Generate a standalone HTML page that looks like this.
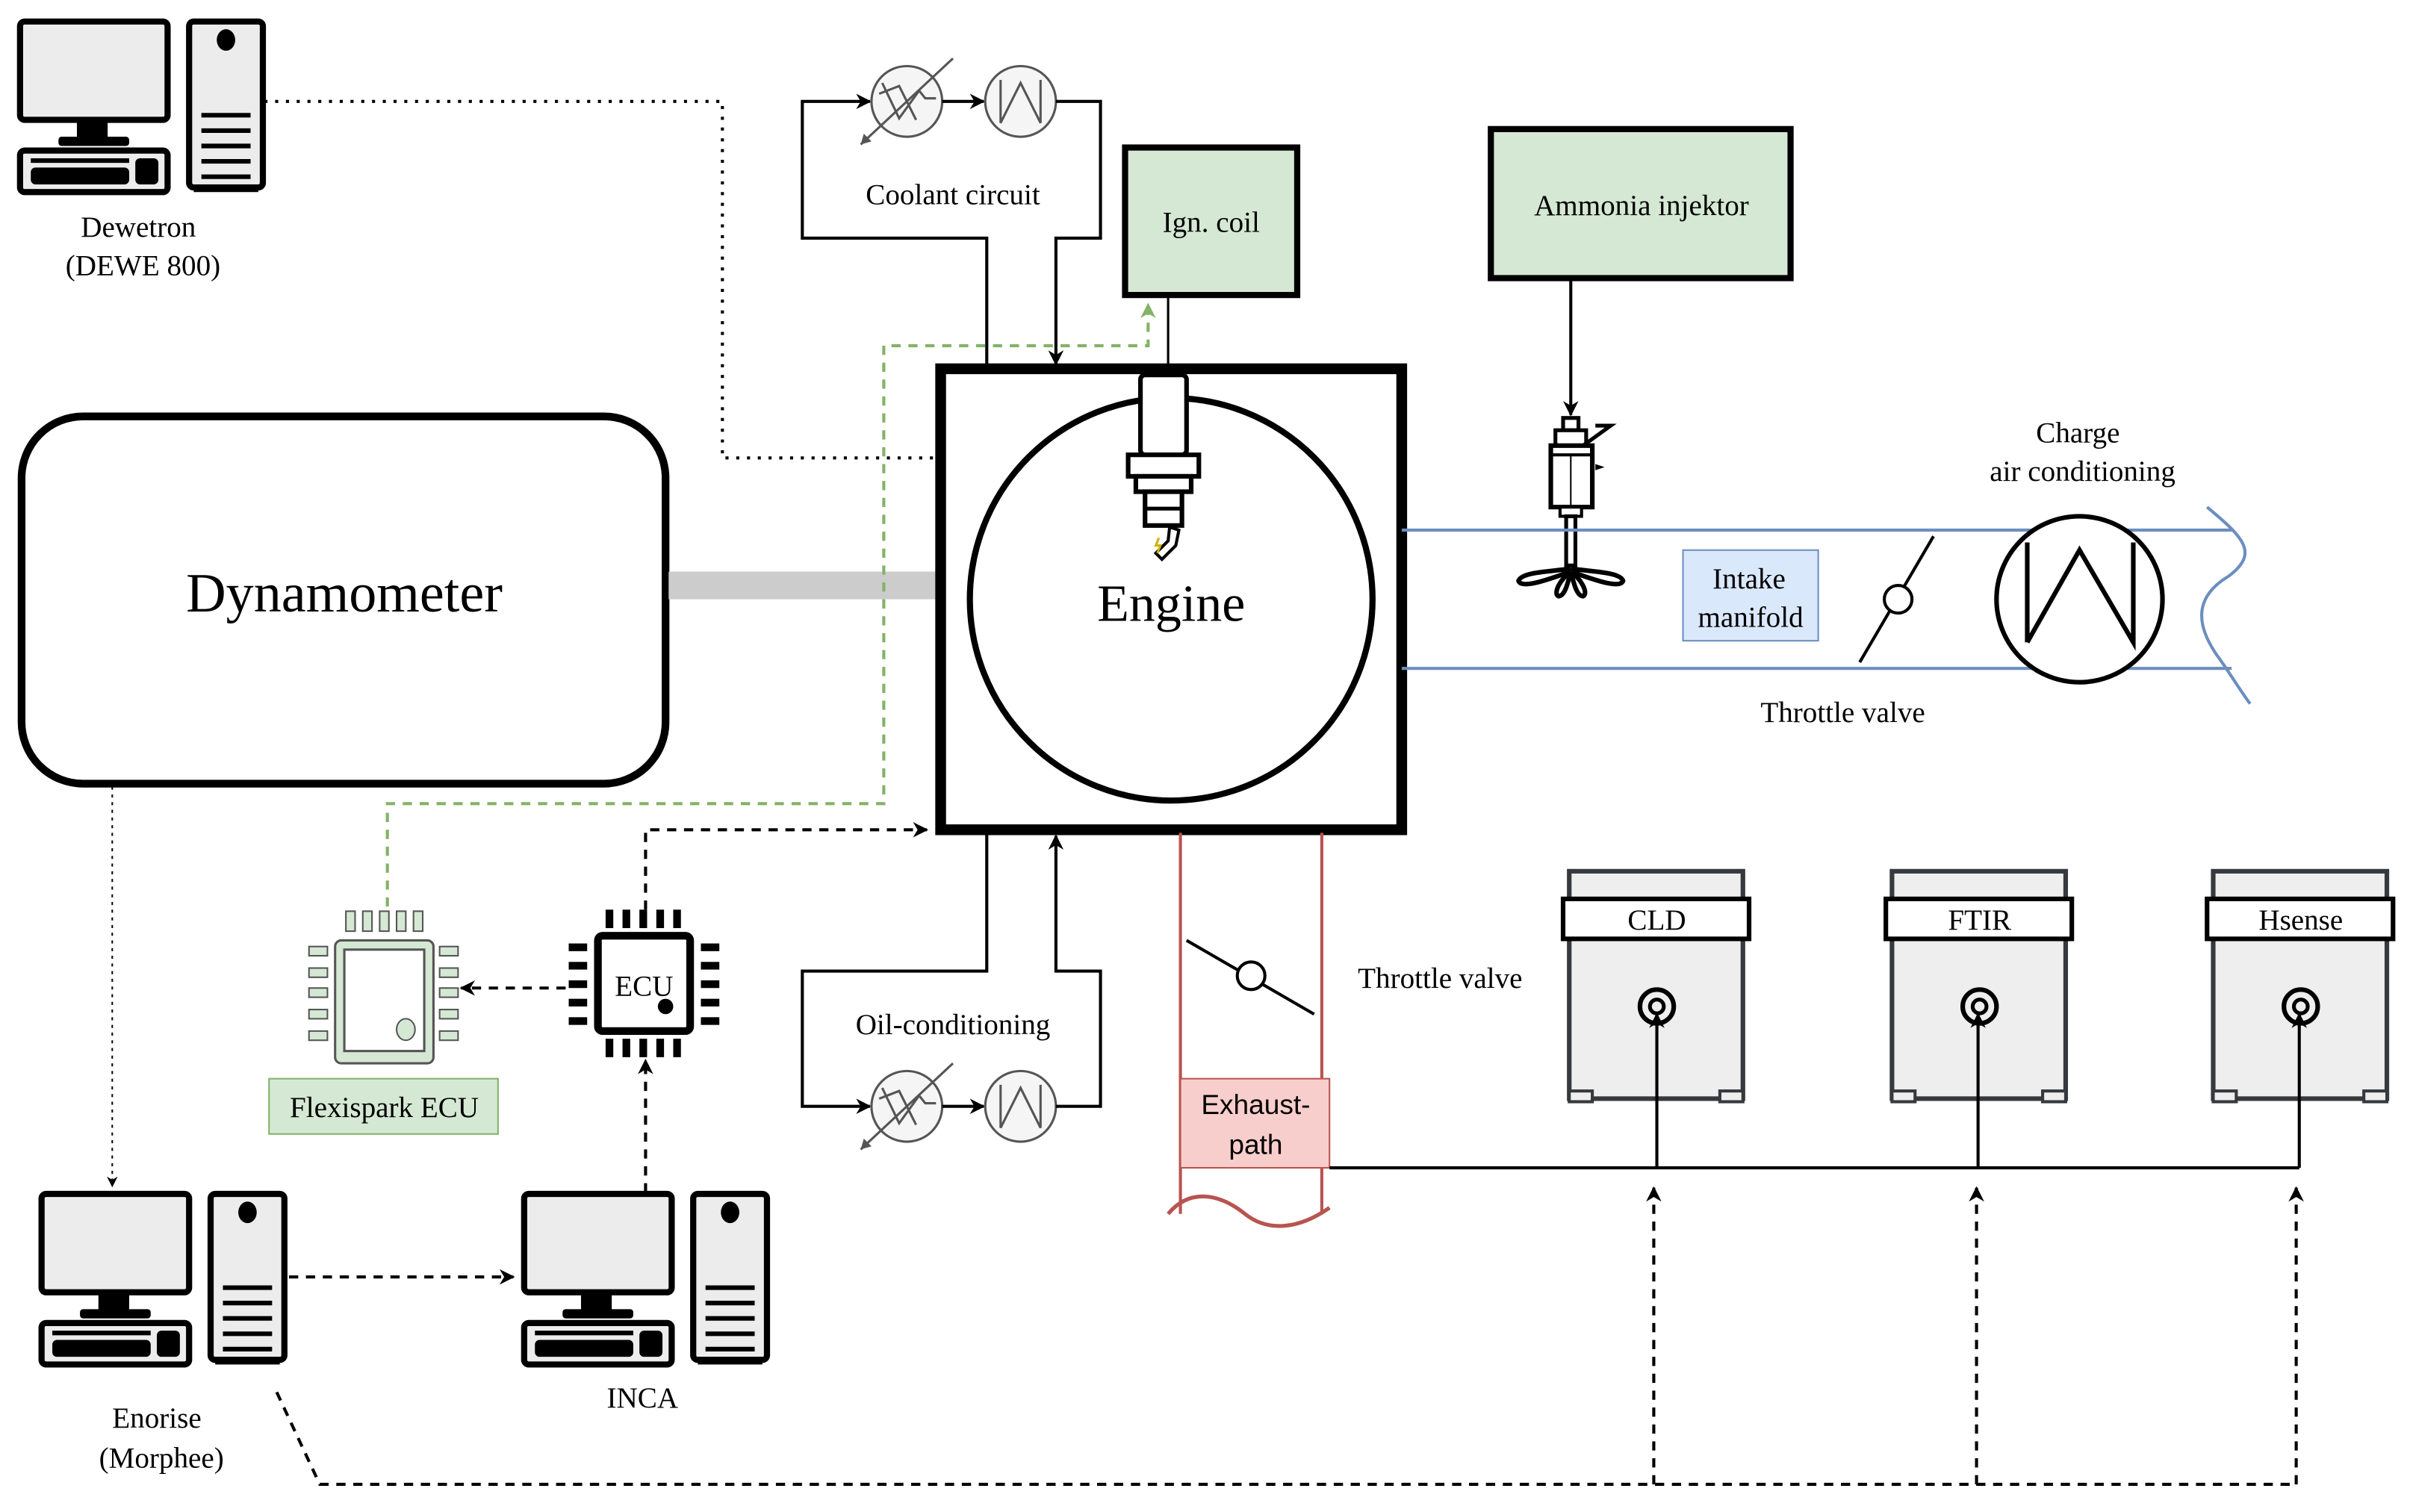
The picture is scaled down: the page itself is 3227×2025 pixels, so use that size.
<!DOCTYPE html>
<html><head><meta charset="utf-8"><style>
html,body{margin:0;padding:0;background:#fff;}
svg{display:block;}
text{font-family:"Liberation Serif",serif;fill:#000;}
</style></head><body>
<svg width="3227" height="2025" viewBox="0 0 1568 984" xmlns="http://www.w3.org/2000/svg">
<defs>
<marker id="ah" viewBox="0 0 10 10" refX="9" refY="5" markerWidth="7" markerHeight="7" orient="auto-start-reverse" markerUnits="userSpaceOnUse"><path d="M0,0 L10,5 L0,10 L3,5 z" fill="#000"/></marker>
<marker id="ahs" viewBox="0 0 10 10" refX="9" refY="5" markerWidth="10" markerHeight="10" orient="auto" markerUnits="userSpaceOnUse"><path d="M0,0 L10,5 L0,10 L3,5 z" fill="#000"/></marker>
<marker id="ahg" viewBox="0 0 10 10" refX="9" refY="5" markerWidth="10" markerHeight="10" orient="auto" markerUnits="userSpaceOnUse"><path d="M0,0 L10,5 L0,10 L3,5 z" fill="#82b366"/></marker>
<g id="pc">
 <rect x="1" y="1" width="96" height="64" rx="3" fill="#ececec" stroke="#000" stroke-width="4"/>
 <rect x="38" y="65" width="20" height="12" fill="#000"/>
 <rect x="26" y="76" width="46" height="6" rx="2" fill="#000"/>
 <rect x="1" y="85" width="96" height="27" rx="3" fill="#ececec" stroke="#000" stroke-width="4"/>
 <rect x="8" y="90" width="64" height="3" fill="#000"/>
 <rect x="8" y="96" width="64" height="11" rx="3" fill="#000"/>
 <rect x="76" y="90" width="15" height="17" rx="3" fill="#000"/>
 <rect x="111" y="1" width="48" height="108" rx="3" fill="#ececec" stroke="#000" stroke-width="4"/>
 <rect x="114" y="107" width="42" height="5" fill="#000"/>
 <ellipse cx="135" cy="13" rx="6" ry="7" fill="#000"/>
 <g stroke="#000" stroke-width="3"><line x1="119" y1="72" x2="151" y2="72"/><line x1="119" y1="82" x2="151" y2="82"/><line x1="119" y1="92" x2="151" y2="92"/><line x1="119" y1="102" x2="151" y2="102"/><line x1="119" y1="62" x2="151" y2="62"/></g>
</g>
<g id="ana">
 <rect x="4" y="0" width="113" height="148" fill="#eeeeee" stroke="#36393d" stroke-width="3"/>
 <rect x="4" y="143" width="15" height="7" fill="#eee" stroke="#36393d" stroke-width="2"/>
 <rect x="102" y="143" width="15" height="7" fill="#eee" stroke="#36393d" stroke-width="2"/>
 <rect x="0" y="18" width="121" height="26" fill="#fff" stroke="#000" stroke-width="3"/>
 <circle cx="61" cy="88" r="11" fill="none" stroke="#000" stroke-width="3"/>
 <circle cx="61" cy="88" r="4.5" fill="none" stroke="#000" stroke-width="2.5"/>
</g>
<g id="heat">
 <circle cx="0" cy="0" r="23" fill="#f5f5f5" stroke="#555" stroke-width="1.5"/>
 <path d="M-16,-12 L-5,11 L8,-7 L12,-2 L19,-2" fill="none" stroke="#555" stroke-width="1.5"/>
 <path d="M-18,-5 L-5,-10 L6,12" fill="none" stroke="#555" stroke-width="1.5"/>
 <line x1="-30" y1="28" x2="30" y2="-28" stroke="#555" stroke-width="1.5"/>
 <path d="M-30,28 l2,-7 l5,5 z" fill="#555"/>
</g>
<g id="cool">
 <circle cx="0" cy="0" r="23" fill="#f5f5f5" stroke="#555" stroke-width="1.5"/>
 <path d="M-13,-14 L-13,14 L0,-12 L13,14 L13,-14" fill="none" stroke="#555" stroke-width="1.5"/>
</g>
</defs>

<!-- Dewetron -->
<use href="#pc" x="12" y="13"/>
<text x="90" y="154" font-size="19" text-anchor="middle">Dewetron</text>
<text x="93" y="179" font-size="19" text-anchor="middle">(DEWE 800)</text>
<path d="M172,66 H470 V298 H610" fill="none" stroke="#000" stroke-width="2" stroke-dasharray="2,5"/>

<!-- Dynamometer -->
<rect x="14" y="271" width="419" height="239" rx="40" fill="#fff" stroke="#000" stroke-width="5"/>
<text x="224" y="398" font-size="36" text-anchor="middle">Dynamometer</text>
<rect x="435" y="372" width="176" height="18" fill="#cccccc"/>

<!-- Coolant circuit -->
<path d="M642,240 V155 H522 V66 H566" fill="none" stroke="#000" stroke-width="2" marker-end="url(#ahs)"/>
<use href="#heat" x="590" y="66"/>
<line x1="613" y1="66" x2="640" y2="66" stroke="#000" stroke-width="2" marker-end="url(#ahs)"/>
<use href="#cool" x="664" y="66"/>
<path d="M687,66 H716 V155 H687 V237" fill="none" stroke="#000" stroke-width="2" marker-end="url(#ahs)"/>
<text x="620" y="133" font-size="19" text-anchor="middle">Coolant circuit</text>

<!-- Oil conditioning -->
<path d="M642,540 V632 H522 V720 H566" fill="none" stroke="#000" stroke-width="2" marker-end="url(#ahs)"/>
<use href="#heat" x="590" y="720"/>
<line x1="613" y1="720" x2="640" y2="720" stroke="#000" stroke-width="2" marker-end="url(#ahs)"/>
<use href="#cool" x="664" y="720"/>
<path d="M687,720 H716 V632 H687 V544" fill="none" stroke="#000" stroke-width="2" marker-end="url(#ahs)"/>
<text x="620" y="673" font-size="19" text-anchor="middle">Oil-conditioning</text>

<!-- Ign coil -->
<rect x="732" y="96" width="112" height="96" fill="#d5e8d4" stroke="#000" stroke-width="4"/>
<text x="788" y="151" font-size="19" text-anchor="middle">Ign. coil</text>
<line x1="760" y1="192" x2="760" y2="242" stroke="#000" stroke-width="1.5"/>

<!-- green dashed -->
<path d="M252,590 V523 H575 V225 H747 V198" fill="none" stroke="#82b366" stroke-width="2" stroke-dasharray="6,5" marker-end="url(#ahg)"/>

<!-- Engine -->
<rect x="612" y="240" width="300" height="300" fill="none" stroke="#000" stroke-width="7"/>
<circle cx="762" cy="390" r="131" fill="#fff" stroke="#000" stroke-width="4"/>
<text x="762" y="404" font-size="34" text-anchor="middle">Engine</text>
<!-- spark plug -->
<rect x="742" y="244" width="30" height="52" rx="3" fill="#fff" stroke="#000" stroke-width="3"/>
<rect x="734" y="296" width="46" height="14" fill="#fff" stroke="#000" stroke-width="3"/>
<rect x="739" y="310" width="36" height="10" fill="#fff" stroke="#000" stroke-width="3"/>
<rect x="745" y="320" width="24" height="22" fill="#fff" stroke="#000" stroke-width="3"/>
<line x1="745" y1="331" x2="769" y2="331" stroke="#000" stroke-width="2.5"/>
<path d="M761,343 L767,345 L765,355 L756,364 L752,360 L760,352 Z" fill="#fff" stroke="#000" stroke-width="2"/>
<path d="M754,350 l-2,5 l3,0 l-2,5" fill="none" stroke="#c8b400" stroke-width="1.5"/>

<!-- Ammonia injektor -->
<rect x="970" y="84" width="195" height="97" fill="#d5e8d4" stroke="#000" stroke-width="4"/>
<text x="1068" y="140" font-size="19" text-anchor="middle">Ammonia injektor</text>
<line x1="1022" y1="181" x2="1022" y2="270" stroke="#000" stroke-width="2" marker-end="url(#ahs)"/>
<!-- injector -->
<rect x="1017" y="272" width="10" height="8" fill="#fff" stroke="#000" stroke-width="2.5"/>
<rect x="1012" y="280" width="20" height="10" fill="#fff" stroke="#000" stroke-width="2.5"/>
<path d="M1030,290 L1048,277 L1038,277" fill="none" stroke="#000" stroke-width="2.5"/>
<rect x="1009" y="290" width="27" height="40" fill="#fff" stroke="#000" stroke-width="3"/>
<line x1="1009" y1="296" x2="1036" y2="296" stroke="#000" stroke-width="2"/>
<line x1="1022" y1="296" x2="1022" y2="330" stroke="#000" stroke-width="1"/>
<path d="M1038,302 l6,2 l-6,2z" fill="#000"/>
<rect x="1015" y="330" width="14" height="6" fill="#fff" stroke="#000" stroke-width="2"/>
<rect x="1019" y="336" width="6" height="32" fill="#fff" stroke="#000" stroke-width="2.5"/>
<g fill="none" stroke="#000" stroke-width="3">
<path d="M1022,370 C1010,372 990,372 988,378 C990,384 1010,376 1022,372"/>
<path d="M1022,370 C1034,372 1054,372 1056,378 C1054,384 1034,376 1022,372"/>
<path d="M1022,372 C1016,376 1010,386 1014,388 C1018,388 1020,380 1022,372"/>
<path d="M1022,372 C1028,376 1034,386 1030,388 C1026,388 1024,380 1022,372"/>
</g>

<!-- intake pipe -->
<line x1="912" y1="345" x2="1452" y2="345" stroke="#6c8ebf" stroke-width="2"/>
<line x1="912" y1="435" x2="1452" y2="435" stroke="#6c8ebf" stroke-width="2"/>
<path d="M1436,330 C1460,350 1470,360 1450,375 C1425,390 1430,410 1445,430 C1452,440 1458,450 1464,458" fill="none" stroke="#6c8ebf" stroke-width="2"/>
<rect x="1095" y="358" width="88" height="59" fill="#dae8fc" stroke="#6c8ebf" stroke-width="1"/>
<text x="1138" y="383" font-size="19" text-anchor="middle">Intake</text>
<text x="1139" y="408" font-size="19" text-anchor="middle">manifold</text>
<line x1="1210" y1="431" x2="1258" y2="349" stroke="#000" stroke-width="2"/>
<circle cx="1235" cy="390" r="9" fill="#fff" stroke="#000" stroke-width="2"/>
<text x="1199" y="470" font-size="19" text-anchor="middle">Throttle valve</text>
<circle cx="1353" cy="390" r="54" fill="#fff" stroke="#000" stroke-width="3"/>
<path d="M1319,418 L1319,353 M1319,418 L1353,358 L1388,418 L1388,353" fill="none" stroke="#000" stroke-width="3"/>
<text x="1352" y="288" font-size="19" text-anchor="middle">Charge</text>
<text x="1355" y="313" font-size="19" text-anchor="middle">air conditioning</text>

<!-- exhaust -->
<line x1="768" y1="542" x2="768" y2="790" stroke="#b85450" stroke-width="2"/>
<line x1="860" y1="542" x2="860" y2="790" stroke="#b85450" stroke-width="2"/>
<path d="M760,790 C775,772 795,778 810,790 C825,802 845,800 865,786" fill="none" stroke="#b85450" stroke-width="2.5"/>
<line x1="772" y1="612" x2="855" y2="660" stroke="#000" stroke-width="2"/>
<circle cx="814" cy="635" r="9" fill="#fff" stroke="#000" stroke-width="2"/>
<text x="937" y="643" font-size="19" text-anchor="middle">Throttle valve</text>
<rect x="768" y="702" width="97" height="58" fill="#f8cecc" stroke="#b85450" stroke-width="1"/>
<text x="817" y="725" font-size="18" text-anchor="middle" style="font-family:'Liberation Sans',sans-serif">Exhaust-</text>
<text x="817" y="751" font-size="18" text-anchor="middle" style="font-family:'Liberation Sans',sans-serif">path</text>

<!-- analyzers -->
<use href="#ana" x="1017" y="567"/>
<text x="1078" y="605" font-size="19" text-anchor="middle">CLD</text>
<use href="#ana" x="1227" y="567"/>
<text x="1288" y="605" font-size="19" text-anchor="middle">FTIR</text>
<use href="#ana" x="1436" y="567"/>
<text x="1497" y="605" font-size="19" text-anchor="middle">Hsense</text>
<path d="M865,760 H1496" fill="none" stroke="#000" stroke-width="2"/>
<line x1="1078" y1="760" x2="1078" y2="660" stroke="#000" stroke-width="2" marker-end="url(#ahs)"/>
<line x1="1287" y1="760" x2="1287" y2="660" stroke="#000" stroke-width="2" marker-end="url(#ahs)"/>
<line x1="1496" y1="760" x2="1496" y2="660" stroke="#000" stroke-width="2" marker-end="url(#ahs)"/>

<!-- bottom dashed -->
<path d="M180,906 L208,966 H1494" fill="none" stroke="#000" stroke-width="2" stroke-dasharray="6,5"/>
<line x1="1076" y1="966" x2="1076" y2="773" stroke="#000" stroke-width="2" stroke-dasharray="6,5" marker-end="url(#ahs)"/>
<line x1="1286" y1="966" x2="1286" y2="773" stroke="#000" stroke-width="2" stroke-dasharray="6,5" marker-end="url(#ahs)"/>
<line x1="1494" y1="966" x2="1494" y2="773" stroke="#000" stroke-width="2" stroke-dasharray="6,5" marker-end="url(#ahs)"/>

<!-- ECU -->
<g fill="#000">
 <rect x="394" y="592" width="5" height="12"/><rect x="405" y="592" width="5" height="12"/><rect x="416" y="592" width="5" height="12"/><rect x="427" y="592" width="5" height="12"/><rect x="438" y="592" width="5" height="12"/>
 <rect x="394" y="676" width="5" height="12"/><rect x="405" y="676" width="5" height="12"/><rect x="416" y="676" width="5" height="12"/><rect x="427" y="676" width="5" height="12"/><rect x="438" y="676" width="5" height="12"/>
 <rect x="370" y="614" width="12" height="5"/><rect x="370" y="626" width="12" height="5"/><rect x="370" y="638" width="12" height="5"/><rect x="370" y="650" width="12" height="5"/><rect x="370" y="662" width="12" height="5"/>
 <rect x="456" y="614" width="12" height="5"/><rect x="456" y="626" width="12" height="5"/><rect x="456" y="638" width="12" height="5"/><rect x="456" y="650" width="12" height="5"/><rect x="456" y="662" width="12" height="5"/>
</g>
<rect x="389" y="609" width="60" height="62" rx="3" fill="#fff" stroke="#000" stroke-width="5"/>
<circle cx="433" cy="655" r="5" fill="#000"/>
<text x="419" y="648" font-size="19" text-anchor="middle">ECU</text>
<path d="M420,592 V540 H603" fill="none" stroke="#000" stroke-width="2" stroke-dasharray="6,5" marker-end="url(#ahs)"/>
<line x1="420" y1="776" x2="420" y2="690" stroke="#000" stroke-width="2" stroke-dasharray="6,5" marker-end="url(#ahs)"/>
<line x1="368" y1="643" x2="300" y2="643" stroke="#000" stroke-width="2" stroke-dasharray="6,5" marker-end="url(#ahs)"/>

<!-- Flexispark -->
<g fill="#d5e8d4" stroke="#555" stroke-width="1">
 <rect x="225" y="593" width="6" height="13"/><rect x="236" y="593" width="6" height="13"/><rect x="247" y="593" width="6" height="13"/><rect x="258" y="593" width="6" height="13"/><rect x="269" y="593" width="6" height="13"/>
 <rect x="225" y="677" width="6" height="13"/><rect x="236" y="677" width="6" height="13"/><rect x="247" y="677" width="6" height="13"/><rect x="258" y="677" width="6" height="13"/><rect x="269" y="677" width="6" height="13"/>
 <rect x="201" y="616" width="12" height="6"/><rect x="201" y="630" width="12" height="6"/><rect x="201" y="643" width="12" height="6"/><rect x="201" y="657" width="12" height="6"/><rect x="201" y="671" width="12" height="6"/>
 <rect x="286" y="616" width="12" height="6"/><rect x="286" y="630" width="12" height="6"/><rect x="286" y="643" width="12" height="6"/><rect x="286" y="657" width="12" height="6"/><rect x="286" y="671" width="12" height="6"/>
</g>
<rect x="218" y="612" width="64" height="80" rx="4" fill="#d5e8d4" stroke="#555" stroke-width="1.5"/>
<rect x="224" y="618" width="52" height="66" fill="#fff" stroke="#555" stroke-width="1.5"/>
<ellipse cx="264" cy="670" rx="6" ry="7" fill="#d5e8d4" stroke="#555" stroke-width="1"/>
<rect x="175" y="702" width="149" height="36" fill="#d5e8d4" stroke="#82b366" stroke-width="1"/>
<text x="250" y="727" font-size="19" text-anchor="middle">Flexispark ECU</text>

<!-- Enorise / INCA -->
<use href="#pc" x="26" y="776"/>
<use href="#pc" x="340" y="776"/>
<text x="102" y="929" font-size="19" text-anchor="middle">Enorise</text>
<text x="105" y="955" font-size="19" text-anchor="middle">(Morphee)</text>
<text x="418" y="916" font-size="19" text-anchor="middle">INCA</text>
<line x1="73" y1="512" x2="73" y2="772" stroke="#000" stroke-width="1" stroke-dasharray="2,3" marker-end="url(#ah)"/>
<line x1="188" y1="831" x2="334" y2="831" stroke="#000" stroke-width="2" stroke-dasharray="6,5" marker-end="url(#ahs)"/>
</svg>
</body></html>
